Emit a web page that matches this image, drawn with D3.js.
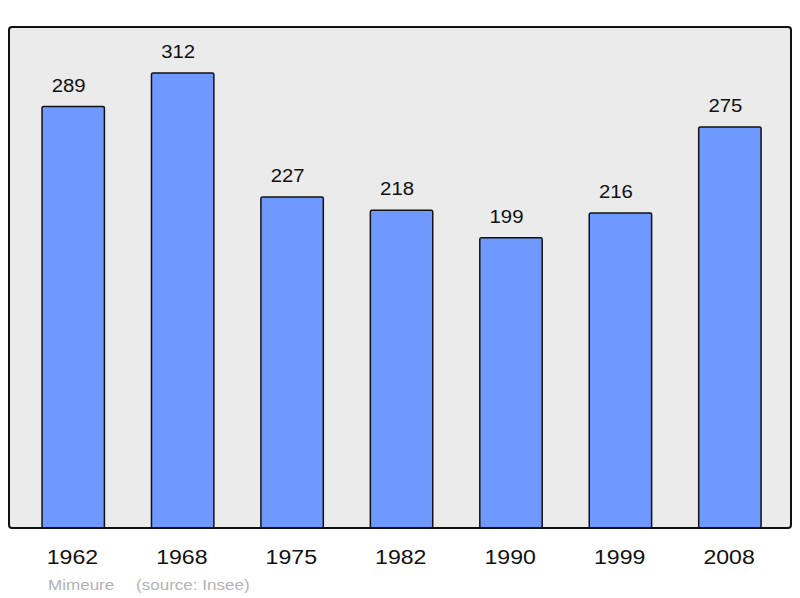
<!DOCTYPE html>
<html>
<head>
<meta charset="utf-8">
<script src="https://cdn.jsdelivr.net/npm/d3@7"></script>
<style>
html,body{margin:0;padding:0;background:#fff;}
svg{display:block;}
text{font-family:"Liberation Sans",Arial,sans-serif;}
</style>
</head>
<body>
<svg id="chart" width="800" height="598"></svg>
<script>
const years = ["1962","1968","1975","1982","1990","1999","2008"];
const population = [289,312,227,218,199,216,275];
const footerName = "Mimeure";
const footerSource = "(source: Insee)";

const svg = d3.select("#chart");
const box = {x0: 9, y0: 27, x1: 791, y1: 528};
const SX = 1.1; // horizontal stretch of the reference's lettering

svg.append("rect")
  .attr("x", box.x0).attr("y", box.y0)
  .attr("width", box.x1 - box.x0).attr("height", box.y1 - box.y0)
  .attr("rx", 3).attr("ry", 3)
  .attr("fill", "#ebebeb");

const x = d3.scaleBand()
  .domain(years)
  .range([18.5, 784.6])
  .paddingInner(0.43)
  .paddingOuter(0.215);

const y = d3.scaleLinear()
  .domain([0, 343.6])
  .range([box.y1, box.y0]);

const data = years.map((yr, i) => ({year: yr, value: population[i]}));

svg.append("g").selectAll("rect")
  .data(data).join("rect")
  .attr("x", d => x(d.year))
  .attr("y", d => y(d.value))
  .attr("width", x.bandwidth())
  .attr("height", d => y(0) - y(d.value))
  .attr("rx", 1.5)
  .attr("fill", "#7099ff")
  .attr("stroke", "#111")
  .attr("stroke-width", 1.5);

svg.append("g").selectAll("text")
  .data(data).join("text")
  .attr("transform", d => `translate(${x(d.year) + x.bandwidth() / 2 - 4.5},${y(d.value) - 15}) scale(${SX},1)`)
  .attr("text-anchor", "middle")
  .attr("font-size", 18.5)
  .attr("fill", "#111")
  .text(d => d.value);

svg.append("rect")
  .attr("x", box.x0).attr("y", box.y0)
  .attr("width", box.x1 - box.x0).attr("height", box.y1 - box.y0)
  .attr("rx", 3).attr("ry", 3)
  .attr("fill", "none")
  .attr("stroke", "#111").attr("stroke-width", 2);

const xAxis = d3.axisBottom(x).tickSize(0).tickPadding(0);
const ag = svg.append("g")
  .attr("transform", `translate(0,${box.y1})`)
  .call(xAxis);
ag.select(".domain").remove();
ag.selectAll("text")
  .attr("dy", null)
  .attr("y", null)
  .attr("transform", `translate(-0.8,36) scale(${SX},1)`)
  .attr("font-size", 21)
  .attr("font-family", "'Liberation Sans', Arial, sans-serif")
  .attr("fill", "#111");

svg.append("text")
  .attr("transform", `translate(48,590) scale(${SX},1)`)
  .attr("font-size", 15.5)
  .attr("fill", "#b3b3b3")
  .text(footerName);
svg.append("text")
  .attr("transform", `translate(136,590) scale(${SX},1)`)
  .attr("font-size", 15.5)
  .attr("fill", "#b3b3b3")
  .text(footerSource);
</script>
</body>
</html>
